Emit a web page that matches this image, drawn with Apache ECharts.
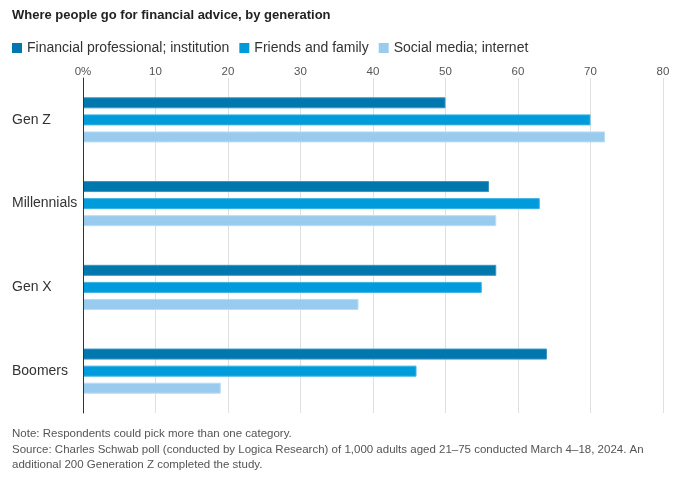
<!DOCTYPE html>
<html><head><meta charset="utf-8">
<script src="https://cdn.jsdelivr.net/npm/echarts@6/dist/echarts.min.js"></script>
<style>html,body{margin:0;padding:0;background:#fff}#c{width:685px;height:481px}</style>
</head><body><div id="c"></div>
<script>
const categories = ['Gen Z', 'Millennials', 'Gen X', 'Boomers'];
const seriesNames = ['Financial professional; institution', 'Friends and family', 'Social media; internet'];
const financial = [50, 56, 57, 64];
const friends = [70, 63, 55, 46];
const social = [72, 57, 38, 19];
const xTicks = [0, 10, 20, 30, 40, 50, 60, 70, 80];
const colors = ['#0077ad', '#009bdb', '#99cbee'];
const borders = ['#3a95c2', '#3ab2e4', '#bcdcf4'];
const FONT = 'Liberation Sans, Arial, sans-serif';

const chart = echarts.init(document.getElementById('c'), null, {renderer: 'canvas'});
const values = [financial, friends, social];
chart.setOption({
  animation: false,
  textStyle: {fontFamily: FONT},
  title: {
    text: 'Where people go for financial advice, by generation',
    left: 7, top: 4,
    textStyle: {fontSize: 13, fontWeight: 'bold', color: '#222', fontFamily: FONT}
  },
  legend: {
    left: 7, top: 36,
    itemWidth: 10, itemHeight: 10, itemGap: 10,
    icon: 'rect',
    itemStyle: {borderWidth: 0},
    textStyle: {fontSize: 14, color: '#333', fontFamily: FONT},
    data: seriesNames
  },
  grid: {left: 83, right: 22, top: 78, height: 335, containLabel: false},
  xAxis: {
    type: 'value', position: 'top', min: 0, max: 80, interval: 10,
    axisLine: {show: false}, axisTick: {show: false},
    axisLabel: {
      color: '#555', fontSize: 11.5, margin: 0, fontFamily: FONT,
      formatter: v => (v === xTicks[0] ? v + '%' : String(v))
    },
    splitLine: {lineStyle: {color: '#e0e0e0', width: 1}}
  },
  yAxis: {
    type: 'category', data: categories, inverse: true, z: 5,
    axisLine: {show: true, lineStyle: {color: '#333', width: 1}},
    axisTick: {show: false},
    axisLabel: {align: 'left', margin: 71, color: '#333', fontSize: 14, fontFamily: FONT}
  },
  series: seriesNames.map((n, i) => ({
    name: n, type: 'bar', data: values[i],
    barWidth: 11, barGap: '55%',
    itemStyle: {color: colors[i], borderColor: borders[i], borderWidth: 1}
  }))
});
chart.setOption({
  graphic: [
    {type: 'text', left: 12, top: 428, style: {text: 'Note: Respondents could pick more than one category.', fontSize: 11.5, fill: '#555', fontFamily: FONT}},
    {type: 'text', left: 12, top: 443.5, style: {text: 'Source: Charles Schwab poll (conducted by Logica Research) of 1,000 adults aged 21–75 conducted March 4–18, 2024. An', fontSize: 11.5, fill: '#555', fontFamily: FONT}},
    {type: 'text', left: 12, top: 459, style: {text: 'additional 200 Generation Z completed the study.', fontSize: 11.5, fill: '#555', fontFamily: FONT}}
  ]
});
</script></body></html>
